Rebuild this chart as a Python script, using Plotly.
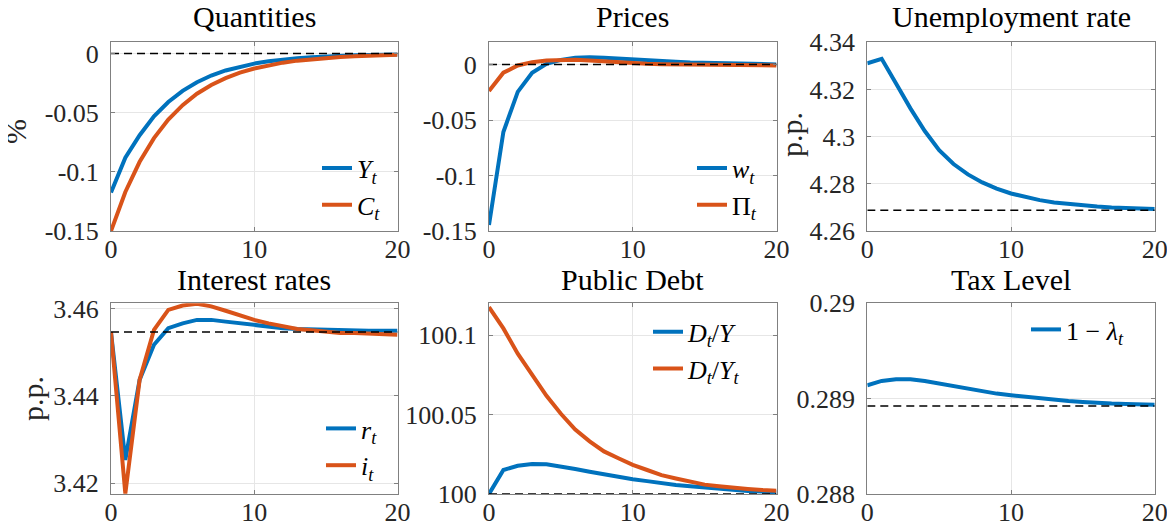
import plotly.graph_objects as go

# ---------------- data ----------------
horizon = list(range(21))

Y_t = [-0.1175, -0.0880, -0.0690, -0.0530, -0.0410, -0.0315, -0.0242, -0.0186, -0.0143, -0.0110,
       -0.0085, -0.0066, -0.0051, -0.0040, -0.0031, -0.0024, -0.0019, -0.0015, -0.0012, -0.0010, -0.0008]
C_t = [-0.1500, -0.1170, -0.0915, -0.0715, -0.0558, -0.0436, -0.0340, -0.0266, -0.0208, -0.0162,
       -0.0127, -0.0099, -0.0077, -0.0060, -0.0047, -0.0037, -0.0029, -0.0023, -0.0018, -0.0014, -0.0011]

w_t = [-0.1446, -0.0608, -0.0247, -0.0074, 0.0006, 0.0042, 0.0060, 0.0065, 0.0060, 0.0051,
       0.0042, 0.0036, 0.0030, 0.0024, 0.0018, 0.0015, 0.0012, 0.0009, 0.0006, 0.0003, 0.0001]
Pi_t = [-0.0238, -0.0074, -0.0009, 0.0021, 0.0036, 0.0042, 0.0042, 0.0036, 0.0027, 0.0021,
        0.0012, 0.0006, 0.0002, 0.0000, -0.0004, -0.0006, -0.0008, -0.0009, -0.0009, -0.0009, -0.0009]

unemp = [4.3311, 4.3330, 4.3225, 4.3120, 4.3024, 4.2943, 4.2884, 4.2840, 4.2806, 4.2780,
         4.2759, 4.2743, 4.2731, 4.2721, 4.2714, 4.2708, 4.2704, 4.2700, 4.2697, 4.2695, 4.2693]

r_t = [3.4546, 3.4253, 3.4437, 3.4517, 3.4555, 3.4566, 3.4574, 3.4574, 3.4570, 3.4566,
       3.4563, 3.4559, 3.4555, 3.4553, 3.4552, 3.4551, 3.4549, 3.4549, 3.4549, 3.4549, 3.4549]
i_t = [3.4546, 3.4176, 3.4437, 3.4551, 3.4597, 3.4607, 3.4611, 3.4605, 3.4595, 3.4584,
       3.4574, 3.4566, 3.4559, 3.4553, 3.4550, 3.4547, 3.4544, 3.4544, 3.4542, 3.4540, 3.4540]

debt_Y = [100.0000, 100.0151, 100.0178, 100.0189, 100.0187, 100.0174, 100.0157, 100.0140, 100.0123, 100.0108,
          100.0093, 100.0081, 100.0068, 100.0057, 100.0049, 100.0040, 100.0032, 100.0025, 100.0019, 100.0015, 100.0011]
debt_Yt = [100.1176, 100.1042, 100.0883, 100.0745, 100.0618, 100.0505, 100.0406, 100.0331, 100.0268, 100.0225,
           100.0183, 100.0151, 100.0119, 100.0098, 100.0076, 100.0059, 100.0049, 100.0038, 100.0032, 100.0025, 100.0021]

tax = [0.289140, 0.289186, 0.289204, 0.289204, 0.289186, 0.289158, 0.289130, 0.289102, 0.289077, 0.289053,
       0.289035, 0.289018, 0.289000, 0.288988, 0.288975, 0.288965, 0.288954, 0.288948, 0.288944, 0.288940, 0.288937]

steady_state = [0.0, 0.0, 4.2688, 3.4546, 100.0, 0.288923]

titles = ["Quantities", "Prices", "Unemployment rate", "Interest rates", "Public Debt", "Tax Level"]
x_ticks = [0, 10, 20]
y_tickvals = [[-0.15, -0.1, -0.05, 0], [-0.15, -0.1, -0.05, 0], [4.26, 4.28, 4.30, 4.32, 4.34],
              [3.42, 3.44, 3.46], [100, 100.05, 100.1], [0.288, 0.289, 0.29]]
y_ticktext = [["-0.15", "-0.1", "-0.05", "0"], ["-0.15", "-0.1", "-0.05", "0"],
              ["4.26", "4.28", "4.3", "4.32", "4.34"], ["3.42", "3.44", "3.46"],
              ["100", "100.05", "100.1"], ["0.288", "0.289", "0.29"]]
y_ranges = [[-0.15, 0.0095], [-0.15, 0.02], [4.26, 4.34], [3.4175, 3.4612], [100, 100.12], [0.288, 0.29]]

BLUE = "#0072BD"
ORANGE = "#D95319"
FONT = "Liberation Serif"

series = [
    [(Y_t, BLUE, "<i>Y<sub>t</sub></i>"), (C_t, ORANGE, "<i>C<sub>t</sub></i>")],
    [(w_t, BLUE, "<i>w<sub>t</sub></i>"), (Pi_t, ORANGE, "Π<sub><i>t</i></sub>")],
    [(unemp, BLUE, None)],
    [(r_t, BLUE, "<i>r<sub>t</sub></i>"), (i_t, ORANGE, "<i>i<sub>t</sub></i>")],
    [(debt_Y, BLUE, "<i>D<sub>t</sub></i>/<i>Y</i>"), (debt_Yt, ORANGE, "<i>D<sub>t</sub></i>/<i>Y<sub>t</sub></i>")],
    [(tax, BLUE, "1 − <i>λ<sub>t</sub></i>")],
]

# ---------------- geometry ----------------
W, H = 1175, 529
OFF = 8  # page body margin


def px(X):
    return (X - OFF) / W


def py(Y):
    return 1 - (Y - OFF) / H


xdom = [[px(111), px(397.5)], [px(489), px(776.5)], [px(867.3), px(1154.7)]]
ydom = [[py(231), py(42.3)], [py(494), py(303.3)]]

# legend placement per panel: (x_left_px, y_top_px) or None
legend_pos = [(317, 144.5), (692, 144.5), None, (321, 405), (648, 308.3), (1026, 306)]
title_shift = [7, 5]

fig = go.Figure()
layout = dict(
    template="none",
    width=W, height=H, margin=dict(l=0, r=0, t=0, b=0, autoexpand=False),
    paper_bgcolor="white", plot_bgcolor="white",
    font=dict(family=FONT, size=26, color="#262626"),
    showlegend=True,
)
annotations = []
leg_count = 0
for k in range(6):
    row, col = divmod(k, 3)
    ax = "" if k == 0 else str(k + 1)
    xref = "x" + ax
    yref = "y" + ax
    legname = None
    if legend_pos[k] is not None:
        leg_count += 1
        legname = "legend" if leg_count == 1 else "legend%d" % leg_count
        lx, ly = legend_pos[k]
        layout[legname] = dict(
            x=px(lx), y=py(ly), xanchor="left", yanchor="top",
            bgcolor="rgba(0,0,0,0)", borderwidth=0,
            font=dict(family=FONT, size=26, color="black"),
            itemwidth=30, tracegroupgap=0,
        )
    for vals, color, name in series[k]:
        fig.add_trace(go.Scatter(
            x=horizon, y=vals, mode="lines", line=dict(color=color, width=4),
            name=name if name else "", showlegend=name is not None,
            legend=legname if legname else "legend",
            xaxis=xref, yaxis=yref,
        ))
    fig.add_trace(go.Scatter(
        x=[horizon[0], horizon[-1]], y=[steady_state[k], steady_state[k]], mode="lines",
        line=dict(color="black", width=1.5, dash="8px,5px"), showlegend=False,
        xaxis=xref, yaxis=yref,
    ))
    common = dict(
        showline=True, mirror="ticks", linecolor="#808080", linewidth=1,
        ticks="inside", ticklen=4, tickcolor="#808080", tickwidth=1,
        showgrid=True, gridcolor="#e6e6e6", gridwidth=1, zeroline=False,
        automargin=False,
        tickfont=dict(family=FONT, size=26, color="#262626"),
    )
    layout["xaxis" + ax] = dict(
        domain=xdom[col], range=[0, 20], tickvals=x_ticks, ticktext=[str(v) for v in x_ticks],
        anchor=yref, ticklabelstandoff=-5, **common,
    )
    layout["yaxis" + ax] = dict(
        domain=ydom[row], range=y_ranges[k], tickvals=y_tickvals[k], ticktext=y_ticktext[k],
        anchor=xref, ticklabelstandoff=6, **common,
    )
    annotations.append(dict(
        text=titles[k], xref="paper", yref="paper",
        x=(xdom[col][0] + xdom[col][1]) / 2, y=ydom[row][1], xanchor="center", yanchor="bottom",
        yshift=title_shift[row], showarrow=False, font=dict(family=FONT, size=30, color="black"),
    ))

# y-axis labels
ylabels = [("%", 15, 132), ("p.p.", 792, 135), ("p.p.", 32, 399)]
for txt, lx, ly in ylabels:
    annotations.append(dict(
        text=txt, xref="paper", yref="paper", x=px(lx), y=py(ly),
        xanchor="center", yanchor="middle", textangle=-90, showarrow=False,
        font=dict(family=FONT, size=30, color="#262626"),
    ))

layout["annotations"] = annotations
fig.update_layout(**layout)
fig.write_html("out.html")
